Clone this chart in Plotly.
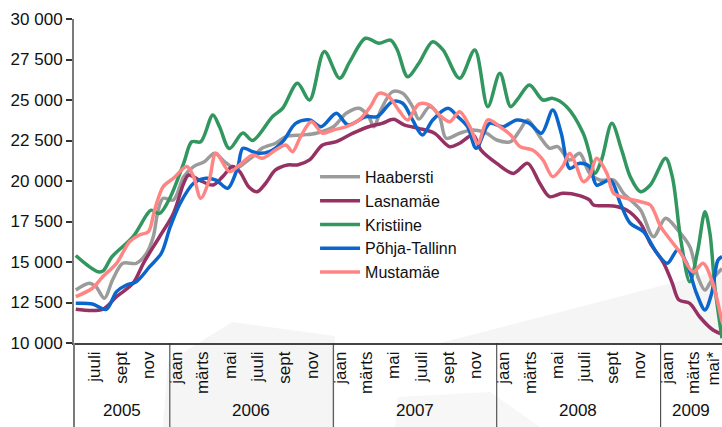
import plotly.graph_objects as go

# ---------------- data ----------------
series_names = ["Haabersti", "Lasnamäe", "Kristiine", "Põhja-Tallinn", "Mustamäe"]
series_colors = ["#9b9b9b", "#963163", "#32975f", "#0a66cc", "#ff8585"]

haabersti_dates = ["2005-06-05", "2005-07-05", "2005-07-20", "2005-08-08", "2005-08-26", "2005-09-18", "2005-10-18",
                   "2005-11-10", "2005-11-25", "2005-12-06", "2005-12-17", "2006-01-09", "2006-02-01", "2006-02-23",
                   "2006-03-19", "2006-04-11", "2006-05-03", "2006-05-28", "2006-06-20", "2006-07-05", "2006-07-26",
                   "2006-08-25", "2006-09-17", "2006-10-24", "2006-11-24", "2007-01-01", "2007-01-30", "2007-02-28",
                   "2007-03-21", "2007-04-02", "2007-04-17", "2007-05-13", "2007-06-05", "2007-06-27", "2007-07-11",
                   "2007-08-04", "2007-08-26", "2007-09-10", "2007-10-10", "2007-11-09", "2007-12-09", "2008-01-01",
                   "2008-02-01", "2008-02-22", "2008-03-10", "2008-04-06", "2008-04-28", "2008-05-16", "2008-06-12",
                   "2008-07-04", "2008-07-26", "2008-08-18", "2008-09-18", "2008-10-10", "2008-11-17", "2008-12-16",
                   "2009-01-12", "2009-02-08", "2009-03-07", "2009-03-25", "2009-04-10", "2009-04-25", "2009-05-18"]
haabersti_values = [13270, 13690, 13480, 12760, 13890, 14920, 14920,
                    15540, 16560, 18210, 18930, 18830, 20270, 20890,
                    21190, 21710, 21190, 20780, 21190, 21500, 22020,
                    22330, 22740, 22840, 22950, 23350, 24180, 24490,
                    23970, 23350, 24380, 25510, 25410, 24590, 23820,
                    24590, 23970, 22640, 22950, 23150, 22950, 22530,
                    22430, 23150, 23770, 22740, 22020, 22120, 21300,
                    21710, 20500, 20060, 20060, 19240, 18210, 16560,
                    17700, 16980, 15950, 14090, 13270, 13890, 14600]

lasnamae_dates = ["2005-06-05", "2005-08-04", "2005-09-04", "2005-10-11", "2005-11-03", "2005-12-09", "2006-01-09",
                  "2006-02-01", "2006-02-12", "2006-03-08", "2006-04-07", "2006-04-29", "2006-05-21", "2006-06-06",
                  "2006-06-26", "2006-07-15", "2006-08-03", "2006-08-25", "2006-09-21", "2006-10-13", "2006-11-09",
                  "2006-12-08", "2007-01-08", "2007-02-14", "2007-03-21", "2007-04-20", "2007-05-16", "2007-06-08",
                  "2007-07-11", "2007-08-15", "2007-09-18", "2007-10-10", "2007-11-09", "2007-11-27", "2008-01-01",
                  "2008-02-07", "2008-03-10", "2008-04-06", "2008-04-28", "2008-05-27", "2008-07-04", "2008-07-26",
                  "2008-08-04", "2008-09-18", "2008-10-17", "2008-11-17", "2008-12-09", "2009-01-08", "2009-01-27",
                  "2009-02-11", "2009-03-07", "2009-03-29", "2009-04-28", "2009-05-18"]
lasnamae_values = [12080, 12080, 12860, 13690, 14920, 16560, 18000,
                   19860, 20370, 20060, 19750, 20270, 20890, 20580,
                   19650, 19340, 19860, 20680, 20990, 20990, 21300,
                   22220, 22430, 22950, 23350, 23560, 23810, 23460,
                   23250, 22950, 22120, 22330, 22840, 21910, 21090,
                   20470, 21090, 19860, 19030, 19240, 19100, 18830,
                   18520, 18460, 18210, 17390, 16150, 14920, 13690,
                   12650, 12450, 11620, 10800, 10550]

kristiine_dates = ["2005-06-05", "2005-07-01", "2005-07-25", "2005-08-05", "2005-08-25", "2005-10-11", "2005-11-10",
                   "2005-11-20", "2005-12-09", "2006-01-02", "2006-02-01", "2006-02-19", "2006-03-11", "2006-04-07",
                   "2006-04-22", "2006-05-14", "2006-06-13", "2006-07-05", "2006-08-18", "2006-09-10", "2006-10-13",
                   "2006-11-09", "2006-12-12", "2007-01-15", "2007-02-07", "2007-03-14", "2007-04-13", "2007-05-09",
                   "2007-05-24", "2007-06-16", "2007-07-11", "2007-08-11", "2007-09-03", "2007-10-10", "2007-11-13",
                   "2007-12-12", "2008-01-08", "2008-02-01", "2008-02-18", "2008-03-14", "2008-04-13", "2008-05-05",
                   "2008-06-05", "2008-07-12", "2008-07-26", "2008-08-07", "2008-08-22", "2008-09-14", "2008-10-06",
                   "2008-10-25", "2008-11-17", "2008-12-09", "2009-01-12", "2009-01-27", "2009-02-15", "2009-03-07",
                   "2009-03-25", "2009-04-10", "2009-04-21", "2009-05-02", "2009-05-18"]
kristiine_values = [15400, 14800, 14400, 14450, 15330, 16560, 17900,
                    18200, 18000, 19000, 21100, 22420, 22420, 24070,
                    23350, 22000, 22960, 22500, 23970, 24490, 26030,
                    25000, 27990, 26340, 27370, 28810, 28500, 28700,
                    28090, 26440, 27270, 28600, 28090, 26340, 28090,
                    24590, 26650, 24590, 25100, 25930, 25000, 25100,
                    24590, 22950, 21710, 20470, 21300, 23560, 21910,
                    20270, 19340, 19750, 21400, 20270, 16360, 13780,
                    15740, 18100, 16770, 13480, 10300]

pohja_dates = ["2005-06-05", "2005-07-12", "2005-08-12", "2005-09-04", "2005-09-26", "2005-10-18", "2005-11-17",
               "2005-12-13", "2006-01-02", "2006-01-24", "2006-02-23", "2006-03-22", "2006-04-14", "2006-05-10",
               "2006-06-02", "2006-06-13", "2006-07-05", "2006-07-18", "2006-08-11", "2006-09-10", "2006-10-09",
               "2006-11-09", "2006-12-05", "2007-01-08", "2007-02-03", "2007-03-14", "2007-04-09", "2007-05-13",
               "2007-06-05", "2007-06-27", "2007-07-19", "2007-08-11", "2007-09-14", "2007-10-06", "2007-10-28",
               "2007-11-16", "2007-12-16", "2008-01-15", "2008-02-15", "2008-03-14", "2008-04-10", "2008-05-05",
               "2008-05-24", "2008-06-12", "2008-07-04", "2008-07-26", "2008-08-11", "2008-09-11", "2008-10-03",
               "2008-10-25", "2008-11-24", "2008-12-24", "2009-01-16", "2009-02-08", "2009-02-28", "2009-03-22",
               "2009-04-10", "2009-04-25", "2009-05-09", "2009-05-18"]
pohja_values = [12450, 12410, 12080, 13170, 13580, 13780, 14710,
                15540, 17180, 18620, 19860, 20170, 20060, 19550,
                20890, 22020, 21810, 21710, 21810, 22430, 23560,
                23770, 23350, 24180, 23460, 23970, 23970, 24900,
                24800, 23770, 22840, 23770, 24490, 23970, 23350,
                22020, 23560, 23350, 23770, 23560, 22950, 24380,
                22950, 20780, 21090, 20890, 19750, 20060, 18620,
                17390, 16870, 15540, 14920, 15740, 14920, 13070,
                12040, 13070, 15120, 15330]

mustamae_dates = ["2005-06-05", "2005-07-12", "2005-08-04", "2005-09-04", "2005-10-03", "2005-10-25", "2005-11-14",
                  "2005-11-28", "2005-12-17", "2006-01-09", "2006-02-08", "2006-02-23", "2006-03-11", "2006-03-30",
                  "2006-04-14", "2006-05-14", "2006-06-06", "2006-07-05", "2006-07-26", "2006-08-25", "2006-09-17",
                  "2006-10-02", "2006-10-20", "2006-11-13", "2006-12-08", "2007-01-01", "2007-01-30", "2007-02-28",
                  "2007-03-25", "2007-04-13", "2007-05-05", "2007-05-27", "2007-06-16", "2007-07-11", "2007-08-04",
                  "2007-08-26", "2007-09-18", "2007-10-10", "2007-11-02", "2007-11-20", "2007-12-12", "2008-01-08",
                  "2008-02-01", "2008-02-22", "2008-03-21", "2008-04-13", "2008-05-05", "2008-05-27", "2008-06-12",
                  "2008-06-27", "2008-07-12", "2008-07-26", "2008-08-11", "2008-09-03", "2008-09-18", "2008-10-17",
                  "2008-11-17", "2008-12-09", "2009-01-01", "2009-01-23", "2009-02-15", "2009-03-14", "2009-04-06",
                  "2009-04-25", "2009-05-18"]
mustamae_values = [12860, 13380, 14090, 14920, 16250, 16670, 16870,
                   18210, 19650, 20170, 20890, 20270, 18930, 20060,
                   21710, 20580, 20990, 21610, 21400, 21910, 22220,
                   21810, 22740, 23660, 22950, 23150, 23350, 23770,
                   24590, 25410, 25200, 24380, 23770, 24750, 24690,
                   24070, 23660, 24280, 23350, 22330, 23770, 23350,
                   22840, 22120, 21910, 21300, 20270, 20890, 21710,
                   20890, 19960, 20270, 21400, 20470, 19240, 18930,
                   18720, 18520, 17180, 16360, 15540, 14400, 14920,
                   13890, 11300]

month_tick_dates = ["2005-07-16", "2005-09-15", "2005-11-15",
                    "2006-01-16", "2006-03-16", "2006-05-16", "2006-07-16", "2006-09-15", "2006-11-15",
                    "2007-01-16", "2007-03-16", "2007-05-16", "2007-07-16", "2007-09-15", "2007-11-15",
                    "2008-01-16", "2008-03-16", "2008-05-16", "2008-07-16", "2008-09-15", "2008-11-15",
                    "2009-01-16", "2009-03-16", "2009-04-28"]
month_tick_labels = ["juuli", "sept", "nov",
                     "jaan", "märts", "mai", "juuli", "sept", "nov",
                     "jaan", "märts", "mai", "juuli", "sept", "nov",
                     "jaan", "märts", "mai", "juuli", "sept", "nov",
                     "jaan", "märts", "mai*"]
year_labels = ["2005", "2006", "2007", "2008", "2009"]
year_label_dates = ["2005-09-16", "2006-07-02", "2007-07-02", "2008-07-01", "2009-03-10"]
year_boundaries = ["2006-01-01", "2007-01-01", "2008-01-01", "2009-01-01"]

y_ticks = [10000, 12500, 15000, 17500, 20000, 22500, 25000, 27500, 30000]
x_range = ["2005-06-01", "2009-05-18"]
y_range = [10000, 30000]

# ---------------- figure ----------------
FONT = "Liberation Sans, Arial, Helvetica, sans-serif"
all_dates = [haabersti_dates, lasnamae_dates, kristiine_dates, pohja_dates, mustamae_dates]
all_values = [haabersti_values, lasnamae_values, kristiine_values, pohja_values, mustamae_values]

fig = go.Figure()
for name, color, d, v in zip(series_names, series_colors, all_dates, all_values):
    fig.add_trace(go.Scatter(
        x=d, y=v, name=name, mode="lines",
        line=dict(color=color, width=3.5, shape="spline", smoothing=0.9),
        cliponaxis=True,
    ))

W, H = 722, 427
PL, PT, PW, PH = 74, 19, 648, 324   # plot area in pixels


def pxpath(points):
    s = ""
    for i, (px, py) in enumerate(points):
        xx = (px - PL) / PW
        yy = (PT + PH - py) / PH
        s += ("M" if i == 0 else "L") + f"{xx:.4f},{yy:.4f} "
    return s + "Z"


shapes = []
shapes.append(dict(type="path", xref="paper", yref="paper", layer="below", line=dict(width=0),
                   fillcolor="rgba(236,236,236,0.55)",
                   path=pxpath([(163, 427), (168, 362), (232, 322), (335, 336), (335, 427)])))
shapes.append(dict(type="path", xref="paper", yref="paper", layer="below", line=dict(width=0),
                   fillcolor="rgba(236,236,236,0.55)",
                   path=pxpath([(440, 343), (722, 270), (722, 343)])))
shapes.append(dict(type="path", xref="paper", yref="paper", layer="below", line=dict(width=0),
                   fillcolor="rgba(240,240,240,0.5)",
                   path=pxpath([(395, 427), (398, 397), (490, 392), (540, 427)])))

# y axis line extension and year separators under the axis
shapes.append(dict(type="line", xref="paper", yref="paper", x0=0, x1=0, y0=0, y1=-0.3,
                   line=dict(color="#7a7a7a", width=2)))
for b in year_boundaries:
    shapes.append(dict(type="line", xref="x", yref="paper", x0=b, x1=b, y0=0, y1=-0.3,
                       line=dict(color="#333333", width=1)))

annotations = []
for lab, d in zip(year_labels, year_label_dates):
    annotations.append(dict(x=d, xref="x", y=(PT + PH - 410) / PH, yref="paper", text=lab, showarrow=False,
                            font=dict(family=FONT, size=17, color="#111111"),
                            xanchor="center", yanchor="middle"))

fig.update_layout(
    width=W, height=H,
    margin=dict(l=PL, r=W - PL - PW, t=PT, b=H - PT - PH, pad=0, autoexpand=False),
    paper_bgcolor="white", plot_bgcolor="rgba(0,0,0,0)",
    font=dict(family=FONT, size=17, color="#111111"),
    separators=", ",
    showlegend=True,
    legend=dict(x=0.372, y=0.565, xanchor="left", yanchor="top",
                bgcolor="rgba(0,0,0,0)", borderwidth=0,
                font=dict(family=FONT, size=16, color="#111111"),
                itemwidth=40, tracegroupgap=0),
    shapes=shapes,
    annotations=annotations,
    hovermode=False,
)
fig.update_xaxes(
    type="date", range=x_range, automargin=False,
    tickmode="array", tickvals=month_tick_dates, ticktext=month_tick_labels,
    tickangle=-90, ticks="", showgrid=False, zeroline=False,
    showline=True, linecolor="#444444", linewidth=1.5,
    ticklabeloverflow="allow",
    tickfont=dict(family=FONT, size=17, color="#111111"),
)
fig.update_yaxes(
    range=y_range, tickmode="array", tickvals=y_ticks, tickformat=",d", automargin=False,
    ticks="outside", ticklen=6, tickwidth=1.5, tickcolor="#333333",
    showgrid=False, zeroline=False,
    showline=True, linecolor="#7a7a7a", linewidth=2,
    tickfont=dict(family=FONT, size=17, color="#111111"),
)

# remove the default 8px page margin so the figure fills the window exactly
fig.write_html("out.html", config={"displayModeBar": False},
               post_script="document.body.style.margin='0';document.body.style.overflow='hidden';")
